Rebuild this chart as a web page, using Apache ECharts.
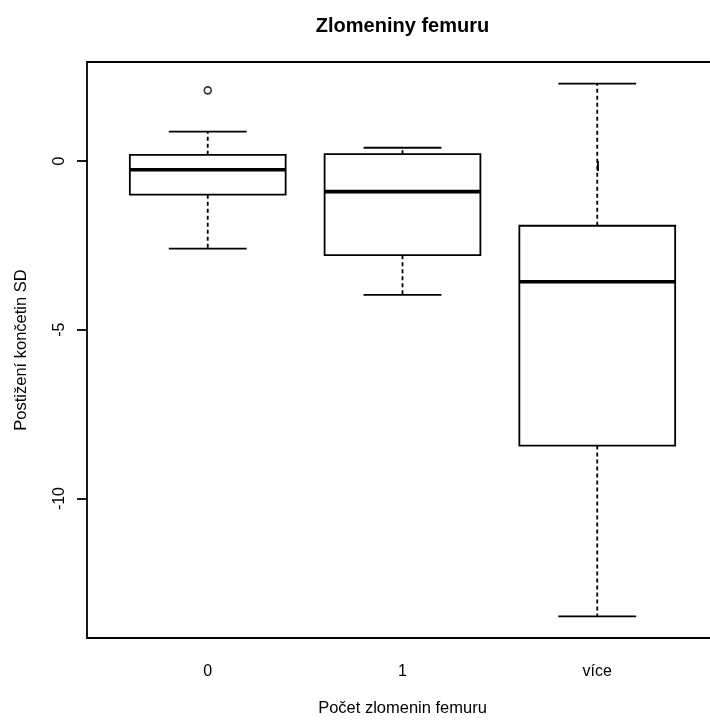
<!DOCTYPE html>
<html>
<head>
<meta charset="utf-8">
<title>Zlomeniny femuru</title>
<script src="https://cdn.jsdelivr.net/npm/echarts@6/dist/echarts.min.js"></script>
<style>
  html, body { margin: 0; padding: 0; background: #fff; overflow: hidden; }
  #chart { width: 710px; height: 720px; }
</style>
</head>
<body>
<div id="chart"></div>
<script>
// Groups (number of femur fractures) and their box statistics
const categories = ['0', '1', 'více'];
const positions = [1, 2, 3];
const whiskerLow = [-2.6, -3.97, -13.49];
const quartile1 = [-1.0, -2.79, -8.43];
const medians = [-0.26, -0.91, -3.58];
const quartile3 = [0.18, 0.2, -1.92];
const whiskerHigh = [0.87, 0.39, 2.29];
// Outlying observations: [group position, value]
const outliers = [[1, 2.09]];
const yTicks = [-10, -5, 0];

const boxData = positions.map((p, i) => [p, whiskerLow[i], quartile1[i], medians[i], quartile3[i], whiskerHigh[i]]);

const FONT = '"Liberation Sans", Arial, Helvetica, sans-serif';
const BOX_WIDTH = 0.8;     // box width in group units
const STAPLE_WIDTH = 0.4;  // whisker cap width in group units
const LINE_W = 1.8;

function renderBox(params, api) {
  const x = api.value(0);
  const low = api.coord([x, api.value(1)]);
  const q1 = api.coord([x, api.value(2)]);
  const med = api.coord([x, api.value(3)]);
  const q3 = api.coord([x, api.value(4)]);
  const high = api.coord([x, api.value(5)]);
  const halfBox = api.size([BOX_WIDTH, 0])[0] / 2;
  const halfCap = api.size([STAPLE_WIDTH, 0])[0] / 2;
  const cx = q1[0];
  const thin = { stroke: '#000', lineWidth: LINE_W, fill: null };
  const dashed = { stroke: '#000', lineWidth: LINE_W, lineDash: [4, 3], fill: null };
  return {
    type: 'group',
    children: [
      { type: 'line', shape: { x1: cx, y1: q3[1], x2: cx, y2: high[1] }, style: dashed },
      { type: 'line', shape: { x1: cx, y1: q1[1], x2: cx, y2: low[1] }, style: dashed },
      { type: 'line', shape: { x1: cx - halfCap, y1: high[1], x2: cx + halfCap, y2: high[1] }, style: thin },
      { type: 'line', shape: { x1: cx - halfCap, y1: low[1], x2: cx + halfCap, y2: low[1] }, style: thin },
      { type: 'rect', shape: { x: cx - halfBox, y: q3[1], width: halfBox * 2, height: q1[1] - q3[1] },
        style: { stroke: '#000', lineWidth: LINE_W, fill: '#fff' } },
      { type: 'line', shape: { x1: cx - halfBox, y1: med[1], x2: cx + halfBox, y2: med[1] },
        style: { stroke: '#000', lineWidth: 3.6 } }
    ]
  };
}

const chart = echarts.init(document.getElementById('chart'), null, { renderer: 'canvas' });
chart.setOption({
  backgroundColor: '#fff',
  animation: false,
  graphic: [{
    type: 'text',
    x: 402.5,
    y: 26,
    style: {
      text: 'Zlomeniny femuru',
      font: 'bold 20px ' + FONT,
      fill: '#000',
      textAlign: 'center',
      textVerticalAlign: 'middle'
    }
  }],
  grid: {
    // the plot frame runs a little past the right edge of the page
    left: 87, top: 62, width: 631, height: 576,
    outerBoundsMode: 'none',
    show: true, borderColor: '#000', borderWidth: LINE_W, backgroundColor: 'transparent'
  },
  xAxis: {
    type: 'value',
    min: 0.38, max: 3.62,
    name: 'Počet zlomenin femuru',
    nameLocation: 'middle',
    nameGap: 62,
    nameTextStyle: { fontFamily: FONT, fontSize: 16.5, color: '#000' },
    axisLine: { show: false },
    splitLine: { show: false },
    axisTick: { show: true, length: 10, customValues: positions, lineStyle: { color: '#000', width: LINE_W } },
    axisLabel: {
      customValues: positions,
      margin: 26,
      fontFamily: FONT, fontSize: 16, color: '#000',
      formatter: v => categories[positions.indexOf(Math.round(v))]
    }
  },
  yAxis: {
    type: 'value',
    min: -14.13, max: 2.93,
    name: 'Postižení končetin SD',
    nameLocation: 'middle',
    nameGap: 57,
    nameTextStyle: { fontFamily: FONT, fontSize: 16.5, color: '#000' },
    axisLine: { show: false },
    splitLine: { show: false },
    axisTick: { show: true, length: 10, customValues: yTicks, lineStyle: { color: '#000', width: LINE_W } },
    axisLabel: {
      customValues: yTicks,
      rotate: 90,
      margin: 19,
      fontFamily: FONT, fontSize: 16, color: '#000'
    }
  },
  series: [
    {
      type: 'custom',
      renderItem: renderBox,
      data: boxData,
      encode: { x: 0, y: [1, 2, 3, 4, 5] },
      silent: true
    },
    {
      type: 'scatter',
      data: outliers,
      symbol: 'circle',
      symbolSize: 7,
      itemStyle: { color: '#fff', borderColor: '#000', borderWidth: 1.6 },
      silent: true
    }
  ]
});
</script>
</body>
</html>
